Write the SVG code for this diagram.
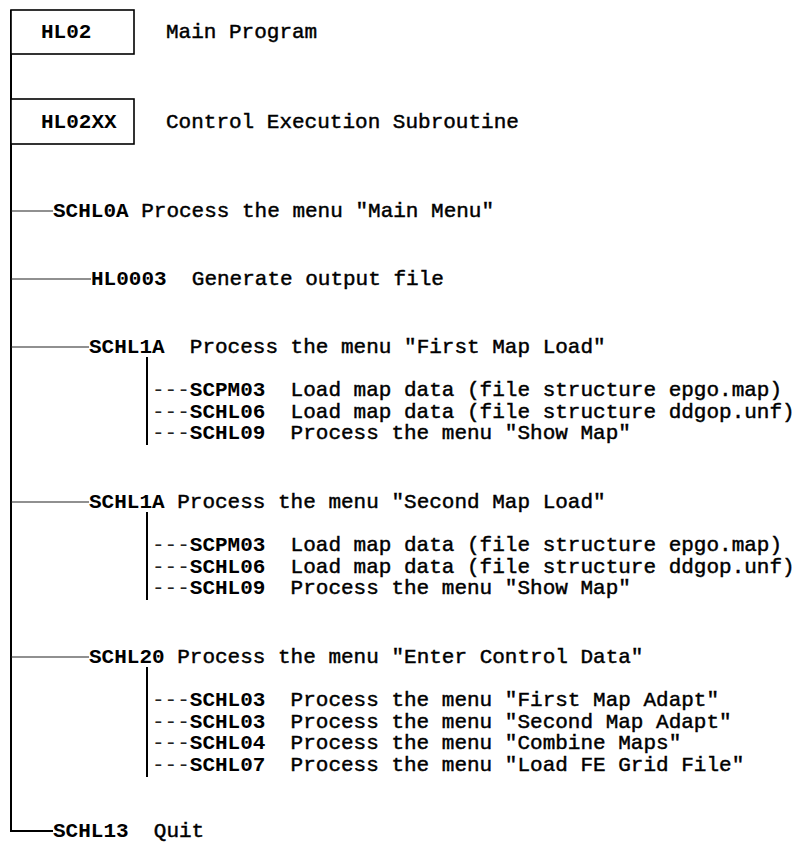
<svg xmlns="http://www.w3.org/2000/svg" width="794" height="844" viewBox="0 0 794 844">
<style>
  .id { font-family: "Liberation Mono", "Courier New", monospace; font-size: 21px; font-weight: bold; fill: #000; }
  .ds { font-family: "Liberation Mono", "Courier New", monospace; font-size: 21px; fill: #000; stroke: #000; stroke-width: 0.45; }
  .dash { font-family: "Liberation Mono", "Courier New", monospace; font-size: 21px; fill: #222; }
  .box { fill: #fff; stroke: #000; stroke-width: 1.6; }
  .trunk { fill: none; stroke: #000; stroke-width: 2; }
  .h { stroke: #222; stroke-width: 1.1; }
  .bar { stroke: #000; stroke-width: 2; }
</style>
<rect width="794" height="844" fill="#fff"/>
<g id="connectors">
  <polyline class="trunk" points="11,10 11,831 53,831"/>
  <line class="h" x1="11" y1="211" x2="53" y2="211"/>
  <line class="h" x1="11" y1="279" x2="91" y2="279"/>
  <line class="h" x1="11" y1="347" x2="89" y2="347"/>
  <line class="h" x1="11" y1="502" x2="89" y2="502"/>
  <line class="h" x1="11" y1="657" x2="89" y2="657"/>
  <line class="bar" x1="147" y1="357" x2="147" y2="445"/>
  <line class="bar" x1="147" y1="512" x2="147" y2="600"/>
  <line class="bar" x1="147" y1="667" x2="147" y2="777"/>
</g>
<g id="HL02">
  <rect class="box" x="11" y="10" width="123" height="44"/>
  <text class="id" x="41" y="38">HL02</text>
  <text class="ds" x="166" y="38">Main Program</text>
</g>
<g id="HL02XX">
  <rect class="box" x="11" y="99" width="123" height="45"/>
  <text class="id" x="41" y="128">HL02XX</text>
  <text class="ds" x="166" y="128">Control Execution Subroutine</text>
</g>
<g id="SCHL0A">
  <text class="id" x="53" y="217">SCHL0A</text>
  <text class="ds" x="141.2" y="217">Process the menu "Main Menu"</text>
</g>
<g id="HL0003">
  <text class="id" x="91" y="285">HL0003</text>
  <text class="ds" x="191.8" y="285">Generate output file</text>
</g>
<g id="SCHL1A-first">
  <text class="id" x="89" y="353">SCHL1A</text>
  <text class="ds" x="189.8" y="353">Process the menu "First Map Load"</text>
</g>
<g id="SCPM03-1">
  <text class="dash" x="152" y="396">---</text><text class="id" x="189.8" y="396">SCPM03</text>
  <text class="ds" x="290.6" y="396">Load map data (file structure epgo.map)</text>
</g>
<g id="SCHL06-1">
  <text class="dash" x="152" y="417.5">---</text><text class="id" x="189.8" y="417.5">SCHL06</text>
  <text class="ds" x="290.6" y="417.5">Load map data (file structure ddgop.unf)</text>
</g>
<g id="SCHL09-1">
  <text class="dash" x="152" y="439">---</text><text class="id" x="189.8" y="439">SCHL09</text>
  <text class="ds" x="290.6" y="439">Process the menu "Show Map"</text>
</g>
<g id="SCHL1A-second">
  <text class="id" x="89" y="508">SCHL1A</text>
  <text class="ds" x="177.2" y="508">Process the menu "Second Map Load"</text>
</g>
<g id="SCPM03-2">
  <text class="dash" x="152" y="551">---</text><text class="id" x="189.8" y="551">SCPM03</text>
  <text class="ds" x="290.6" y="551">Load map data (file structure epgo.map)</text>
</g>
<g id="SCHL06-2">
  <text class="dash" x="152" y="572.5">---</text><text class="id" x="189.8" y="572.5">SCHL06</text>
  <text class="ds" x="290.6" y="572.5">Load map data (file structure ddgop.unf)</text>
</g>
<g id="SCHL09-2">
  <text class="dash" x="152" y="594">---</text><text class="id" x="189.8" y="594">SCHL09</text>
  <text class="ds" x="290.6" y="594">Process the menu "Show Map"</text>
</g>
<g id="SCHL20">
  <text class="id" x="89" y="663">SCHL20</text>
  <text class="ds" x="177.2" y="663">Process the menu "Enter Control Data"</text>
</g>
<g id="SCHL03-1">
  <text class="dash" x="152" y="706">---</text><text class="id" x="189.8" y="706">SCHL03</text>
  <text class="ds" x="290.6" y="706">Process the menu "First Map Adapt"</text>
</g>
<g id="SCHL03-2">
  <text class="dash" x="152" y="727.5">---</text><text class="id" x="189.8" y="727.5">SCHL03</text>
  <text class="ds" x="290.6" y="727.5">Process the menu "Second Map Adapt"</text>
</g>
<g id="SCHL04">
  <text class="dash" x="152" y="749">---</text><text class="id" x="189.8" y="749">SCHL04</text>
  <text class="ds" x="290.6" y="749">Process the menu "Combine Maps"</text>
</g>
<g id="SCHL07">
  <text class="dash" x="152" y="770.5">---</text><text class="id" x="189.8" y="770.5">SCHL07</text>
  <text class="ds" x="290.6" y="770.5">Process the menu "Load FE Grid File"</text>
</g>
<g id="SCHL13">
  <text class="id" x="53" y="837">SCHL13</text>
  <text class="ds" x="153.8" y="837">Quit</text>
</g>
</svg>
